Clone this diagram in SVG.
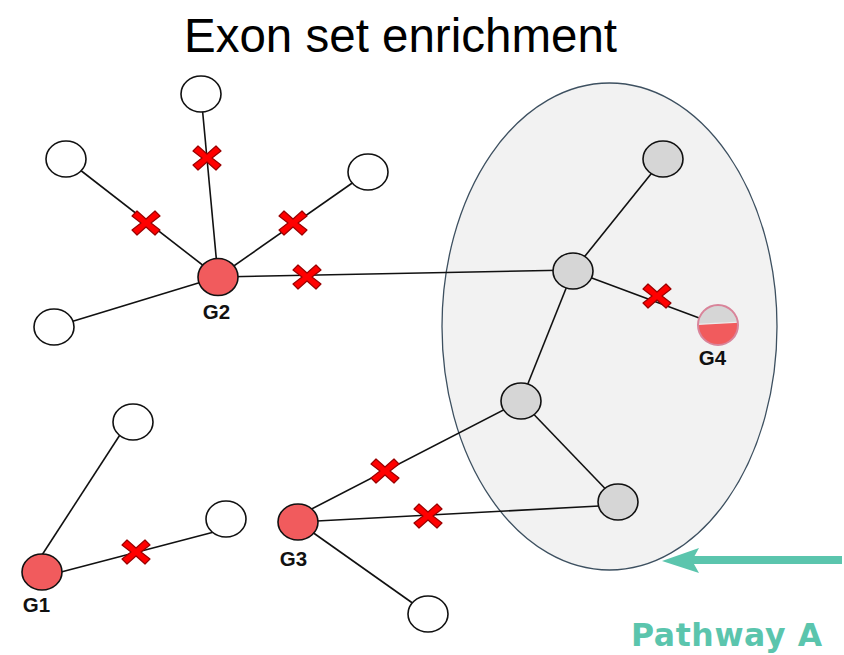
<svg xmlns="http://www.w3.org/2000/svg" xmlns:xlink="http://www.w3.org/1999/xlink" width="844" height="655" viewBox="0 0 844 655">
<style>
.edge{stroke:#111;stroke-width:1.6;fill:none}
.white{fill:#fff;stroke:#111;stroke-width:1.6}
.gray{fill:#d6d6d6;stroke:#111;stroke-width:1.6}
.red{fill:#f15b5d;stroke:#111;stroke-width:1.6}
.lbl{font-family:"Liberation Sans",Arial,sans-serif;font-weight:bold;font-size:20.5px;fill:#111;text-anchor:middle}
.cross{fill:#ff0000;stroke:#9a0000;stroke-width:1.2;stroke-linejoin:round}
</style>
<defs>
<polygon id="x" points="-14,-7 -9,-12 0,-4 9,-12 14,-7 5,0 14,7 9,12 0,4 -9,12 -14,7 -5,0"/>
</defs>
<rect width="844" height="655" fill="#fff"/>
<text x="400.5" y="52" font-family="'Liberation Sans',Arial,sans-serif" font-size="47.5" text-anchor="middle" fill="#000">Exon set enrichment</text>
<g id="pathwayA">
<ellipse cx="609.5" cy="326.5" rx="167.5" ry="243.5" fill="#f2f2f2" stroke="#3d5060" stroke-width="1.3"/>
</g>
<g id="connectors">
<line class="edge" x1="218" y1="277" x2="201" y2="94"/>
<line class="edge" x1="218" y1="277" x2="66" y2="159"/>
<line class="edge" x1="218" y1="277" x2="368" y2="172"/>
<line class="edge" x1="218" y1="277" x2="54" y2="327"/>
<line class="edge" x1="218" y1="277" x2="573" y2="270"/>
<line class="edge" x1="573" y1="271" x2="663" y2="159"/>
<line class="edge" x1="573" y1="271" x2="521" y2="401"/>
<line class="edge" x1="573" y1="271" x2="718" y2="325"/>
<line class="edge" x1="521" y1="401" x2="618" y2="502"/>
<line class="edge" x1="298" y1="516" x2="521" y2="401"/>
<line class="edge" x1="298" y1="522" x2="618" y2="505"/>
<line class="edge" x1="298" y1="522" x2="428" y2="614"/>
<line class="edge" x1="42" y1="555" x2="127" y2="424"/>
<line class="edge" x1="42" y1="577" x2="214" y2="532"/>
<line stroke="#5bc5ad" stroke-width="8" x1="842" y1="560" x2="690" y2="560"/>
<polygon fill="#5bc5ad" points="662,561 699,548 692,560.5 699,573"/>
</g>
<g id="crosses">
<use xlink:href="#x" class="cross" x="207" y="158"/>
<use xlink:href="#x" class="cross" x="146" y="223"/>
<use xlink:href="#x" class="cross" x="293" y="223"/>
<use xlink:href="#x" class="cross" x="307" y="277"/>
<use xlink:href="#x" class="cross" x="657" y="296"/>
<use xlink:href="#x" class="cross" x="385" y="471"/>
<use xlink:href="#x" class="cross" x="428" y="516"/>
<use xlink:href="#x" class="cross" x="136" y="552"/>
</g>
<g id="n_top"><ellipse class="white" cx="201" cy="94" rx="20" ry="18"/></g>
<g id="n_lefttop"><ellipse class="white" cx="66" cy="159" rx="20" ry="18"/></g>
<g id="n_right"><ellipse class="white" cx="368" cy="172" rx="20" ry="18"/></g>
<g id="n_lowleft"><ellipse class="white" cx="54" cy="327" rx="20" ry="18"/></g>
<g id="G2"><ellipse class="red" cx="218" cy="277" rx="20" ry="18.5"/><text class="lbl" x="216.5" y="319">G2</text></g>
<g id="g_top"><ellipse class="gray" cx="663" cy="159" rx="20" ry="18"/></g>
<g id="g_mid"><ellipse class="gray" cx="573" cy="271" rx="20" ry="18"/></g>
<g id="g_low"><ellipse class="gray" cx="521" cy="401" rx="20" ry="18"/></g>
<g id="g_bottom"><ellipse class="gray" cx="618" cy="502" rx="20" ry="18"/></g>
<g id="G4">
<clipPath id="c4"><circle cx="718" cy="325" r="20"/></clipPath>
<circle cx="718" cy="325" r="20" fill="#f15b5d"/>
<polygon clip-path="url(#c4)" points="696,303 740,303 740,322 696,324.5" fill="#d6d6d6"/>
<line x1="697" y1="324.4" x2="739" y2="322.1" stroke="#ececec" stroke-width="1.2"/>
<circle cx="718" cy="325" r="20" fill="none" stroke="#d9849a" stroke-width="2"/>
<text class="lbl" x="712.5" y="365">G4</text>
</g>
<g id="n_g1top"><ellipse class="white" cx="133" cy="422" rx="20" ry="18"/></g>
<g id="n_g1right"><ellipse class="white" cx="226" cy="519" rx="20" ry="18"/></g>
<g id="G1"><ellipse class="red" cx="42" cy="572" rx="20" ry="18"/><text class="lbl" x="36.5" y="612">G1</text></g>
<g id="G3"><ellipse class="red" cx="298" cy="522" rx="20" ry="18"/><text class="lbl" x="293.5" y="566">G3</text></g>
<g id="n_g3low"><ellipse class="white" cx="428" cy="614" rx="20" ry="18"/></g>
<text x="631" y="646" font-family="'DejaVu Sans',Verdana,sans-serif" font-weight="bold" font-size="31.5" letter-spacing="0.6" fill="#5bc5ad">Pathway A</text>
</svg>
